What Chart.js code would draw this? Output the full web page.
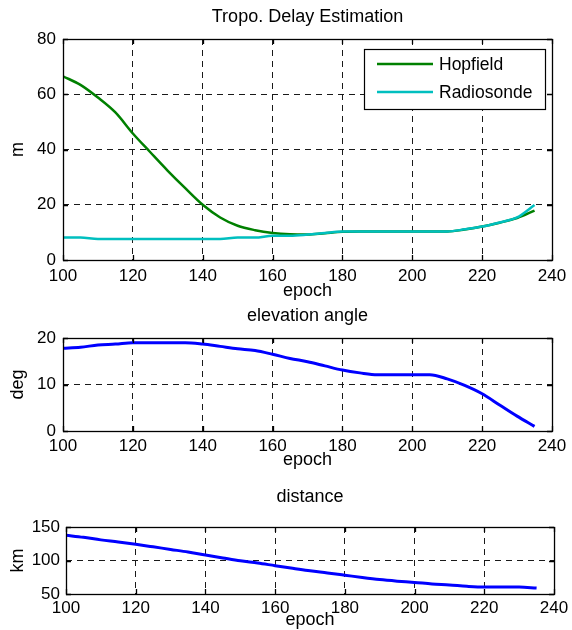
<!DOCTYPE html>
<html>
<head>
<meta charset="utf-8">
<script src="https://cdn.jsdelivr.net/npm/chart.js@4.4.1/dist/chart.umd.min.js"></script>
<style>
  html, body { margin: 0; padding: 0; background: #fff; }
  #wrap { position: relative; width: 572px; height: 630px; overflow: hidden; }
  canvas { position: absolute; left: 0; }
</style>
</head>
<body>
<div id="wrap">
  <canvas id="delay" width="572" height="300" style="top:0px"></canvas>
  <canvas id="elev" width="572" height="170" style="top:300px"></canvas>
  <canvas id="dist" width="572" height="160" style="top:470px"></canvas>
</div>
<script>
// Epochs sampled every 5 steps
const epochs = [100, 105, 110, 115, 120, 125, 130, 135, 140, 145, 150, 155, 160, 165,
                170, 175, 180, 185, 190, 195, 200, 205, 210, 215, 220, 225, 230, 235];

// Tropospheric delay (m)
const hopfield = [66.5, 63.4, 58.8, 53.4, 45.8, 39.0, 32.3, 26.0, 20.0, 15.4, 12.4, 10.8, 9.8, 9.3,
                  9.2, 9.7, 10.2, 10.3, 10.3, 10.3, 10.3, 10.3, 10.3, 11.0, 12.1, 13.5, 15.2, 17.9];
const radiosonde = [8.1, 8.1, 7.6, 7.6, 7.6, 7.6, 7.6, 7.6, 7.6, 7.6, 8.1, 8.1, 8.8, 8.8,
                    9.2, 9.8, 10.3, 10.3, 10.3, 10.3, 10.3, 10.3, 10.3, 11.1, 12.1, 13.6, 15.4, 19.9];

// Elevation angle (deg)
const elevation = [17.8, 18.0, 18.5, 18.7, 19.0, 19.0, 19.0, 19.0, 18.7, 18.2, 17.7, 17.3, 16.5, 15.6,
                   14.9, 14.0, 13.1, 12.5, 12.1, 12.1, 12.1, 12.1, 11.2, 9.8, 8.0, 5.6, 3.2, 1.0];

// Distance (km)
const distance = [137.7, 134.6, 130.8, 127.7, 124.2, 120.4, 116.5, 112.7, 108.1, 103.8, 99.6, 96.2, 92.3, 88.5,
                  84.6, 81.5, 78.1, 74.6, 71.5, 69.2, 67.3, 65.0, 63.5, 61.5, 60.4, 60.4, 60.4, 58.8];

const seriesLabels = ['Hopfield', 'Radiosonde'];
const plotTitles = ['Tropo. Delay Estimation', 'elevation angle', 'distance'];
const yLabels = ['m', 'deg', 'km'];
const xLabel = 'epoch';

const FONT = '"Liberation Sans", Arial, Helvetica, sans-serif';
Chart.defaults.font.family = FONT;
Chart.defaults.font.size = 17;
Chart.defaults.color = '#000';

const pts = (ys) => ys.map((y, i) => ({ x: epochs[i], y }));

// Solid axes box with short inward ticks on all four sides
const framePlugin = {
  id: 'frame',
  afterDatasetsDraw(chart) {
    const { ctx, chartArea: a, scales } = chart;
    ctx.save();
    ctx.strokeStyle = '#000';
    ctx.lineWidth = 1.3;
    ctx.setLineDash([]);
    ctx.strokeRect(a.left + 0.5, a.top + 0.5, a.right - a.left, a.bottom - a.top);
    const tl = 5;
    ctx.beginPath();
    scales.x.ticks.forEach(t => {
      const p = Math.round(scales.x.getPixelForValue(t.value)) + 0.5;
      ctx.moveTo(p, a.bottom); ctx.lineTo(p, a.bottom - tl);
      ctx.moveTo(p, a.top); ctx.lineTo(p, a.top + tl);
    });
    scales.y.ticks.forEach(t => {
      const p = Math.round(scales.y.getPixelForValue(t.value)) + 0.5;
      ctx.moveTo(a.left, p); ctx.lineTo(a.left + tl, p);
      ctx.moveTo(a.right, p); ctx.lineTo(a.right - tl, p);
    });
    ctx.stroke();
    ctx.restore();
  }
};

// Boxed legend in the upper right of the plot area
const boxLegendPlugin = {
  id: 'boxLegend',
  afterDraw(chart) {
    const { ctx, chartArea: a } = chart;
    const w = 181, h = 60;
    const left = a.right - 7 - w, top = a.top + 10;
    ctx.save();
    ctx.fillStyle = '#fff';
    ctx.fillRect(left, top, w, h);
    ctx.strokeStyle = '#000';
    ctx.lineWidth = 1.2;
    ctx.strokeRect(left + 0.5, top + 0.5, w, h);
    ctx.font = '17.5px ' + FONT;
    ctx.textBaseline = 'middle';
    ctx.textAlign = 'left';
    chart.data.datasets.forEach((ds, i) => {
      const y = top + 15 + i * 28;
      ctx.strokeStyle = ds.borderColor;
      ctx.lineWidth = ds.borderWidth;
      ctx.beginPath();
      ctx.moveTo(left + 13, y);
      ctx.lineTo(left + 69, y);
      ctx.stroke();
      ctx.fillStyle = '#000';
      ctx.fillText(ds.label, left + 75, y + 1);
    });
    ctx.restore();
  }
};

function makeOptions(cfg) {
  return {
    responsive: false,
    animation: false,
    devicePixelRatio: 1,
    layout: { padding: { left: 0, right: cfg.padRight, top: 0, bottom: 0 } },
    plugins: {
      legend: { display: false },
      tooltip: { enabled: false },
      title: {
        display: true,
        fullSize: false,
        text: cfg.title,
        color: '#000',
        font: { size: 18, weight: 'normal', lineHeight: 1.2 },
        padding: { top: cfg.titleTop, bottom: cfg.titleBottom }
      }
    },
    elements: { point: { radius: 0 }, line: { cubicInterpolationMode: 'monotone' } },
    scales: {
      x: {
        type: 'linear',
        min: 100, max: 240,
        afterFit: s => { s.height = cfg.xH; },
        ticks: { stepSize: 20, padding: cfg.xTickPad, maxRotation: 0, autoSkip: false, color: '#000' },
        grid: { color: '#1a1a1a', lineWidth: 1, drawTicks: false },
        border: { display: false, dash: [6, 5] },
        title: {
          display: true, text: xLabel, color: '#000',
          font: { size: 18, lineHeight: 1 },
          padding: { top: 0, bottom: cfg.xTitlePad }
        }
      },
      y: {
        min: cfg.yMin, max: cfg.yMax,
        afterFit: s => { s.width = cfg.leftW; },
        ticks: { stepSize: cfg.yStep, padding: cfg.yTickPad, autoSkip: false, color: '#000' },
        grid: { color: '#1a1a1a', lineWidth: 1, drawTicks: false },
        border: { display: false, dash: [6, 5] },
        title: {
          display: true, text: cfg.yTitle, color: '#000',
          font: { size: 18, lineHeight: 1.2 },
          padding: { top: 7.2, bottom: 0 }
        }
      }
    }
  };
}

new Chart(document.getElementById('delay'), {
  type: 'line',
  data: {
    datasets: [
      { label: seriesLabels[0], data: pts(hopfield), borderColor: '#008000', borderWidth: 2.5, order: 1 },
      { label: seriesLabels[1], data: pts(radiosonde), borderColor: '#00bfbf', borderWidth: 2.5, order: 0 }
    ]
  },
  options: makeOptions({
    title: plotTitles[0], yTitle: yLabels[0], yMin: 0, yMax: 80, yStep: 20,
    leftW: 63, padRight: 20, titleTop: 6.2, titleBottom: 11.2,
    xH: 40, xTickPad: 5.8, xTitlePad: 0, yTickPad: 7
  }),
  plugins: [framePlugin, boxLegendPlugin]
});

new Chart(document.getElementById('elev'), {
  type: 'line',
  data: {
    datasets: [
      { label: 'elevation', data: pts(elevation), borderColor: '#0000ff', borderWidth: 3 }
    ]
  },
  options: makeOptions({
    title: plotTitles[1], yTitle: yLabels[1], yMin: 0, yMax: 20, yStep: 10,
    leftW: 63, padRight: 20, titleTop: 5.2, titleBottom: 11.2,
    xH: 39, xTickPad: 4.8, xTitlePad: 0.5, yTickPad: 7
  }),
  plugins: [framePlugin]
});

new Chart(document.getElementById('dist'), {
  type: 'line',
  data: {
    datasets: [
      { label: 'distance', data: pts(distance), borderColor: '#0000ff', borderWidth: 3 }
    ]
  },
  options: makeOptions({
    title: plotTitles[2], yTitle: yLabels[2], yMin: 50, yMax: 150, yStep: 50,
    leftW: 66, padRight: 16, titleTop: 16.2, titleBottom: 19.2,
    xH: 36, xTickPad: 3.8, xTitlePad: 0.5, yTickPad: 6
  }),
  plugins: [framePlugin]
});
</script>
</body>
</html>
